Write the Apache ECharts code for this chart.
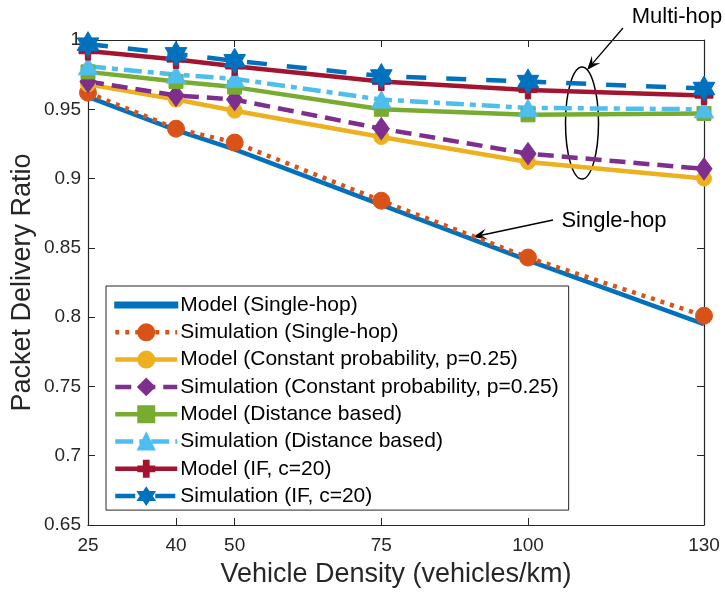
<!DOCTYPE html>
<html>
<head>
<meta charset="utf-8">
<script src="https://cdn.jsdelivr.net/npm/echarts@6.0.0/dist/echarts.min.js"></script>
<style>
  html, body { margin: 0; padding: 0; background: #fff; }
  #chart { width: 725px; height: 594px; }
</style>
</head>
<body>
<div id="chart"></div>
<script>
// vehicle density (x) and tick marks
var xValues = [25, 40, 50, 75, 100, 130];
var xTicks = [25, 40, 50, 75, 100, 130];

// packet delivery ratio per series
var modelSingle = [0.959, 0.935, 0.921, 0.881, 0.841, 0.795];
var simSingle   = [0.962, 0.936, 0.926, 0.884, 0.843, 0.801];
var modelConst  = [0.968, 0.957, 0.949, 0.930, 0.912, 0.900];
var simConst    = [0.970, 0.960, 0.957, 0.936, 0.918, 0.907];
var modelDist   = [0.977, 0.970, 0.966, 0.950, 0.946, 0.947];
var simDist     = [0.981, 0.975, 0.972, 0.957, 0.951, 0.950];
var modelIF     = [0.992, 0.986, 0.981, 0.970, 0.964, 0.960];
var simIF       = [0.997, 0.990, 0.985, 0.974, 0.970, 0.965];

var names = [
  'Model (Single-hop)',
  'Simulation (Single-hop)',
  'Model (Constant probability, p=0.25)',
  'Simulation (Constant probability, p=0.25)',
  'Model (Distance based)',
  'Simulation (Distance based)',
  'Model (IF, c=20)',
  'Simulation (IF, c=20)'
];

var FONT = 'Liberation Sans, Arial, Helvetica, sans-serif';
var AXIS = '#262626';
var LW = 4.5;
var PLUS = 'path://M3.5,0H6.5V3.5H10V6.5H6.5V10H3.5V6.5H0V3.5H3.5Z';
var HEXA = 'path://M50,0L64.4,25L93.3,25L78.9,50L93.3,75L64.4,75L50,100L35.6,75L6.7,75L21.1,50L6.7,25L35.6,25Z';

function pairs(vals) {
  return xValues.map(function (x, i) { return [x, vals[i]]; });
}

function mkSeries(name, vals, color, type, symbol, size) {
  return {
    name: name,
    type: 'line',
    data: pairs(vals),
    symbol: symbol,
    symbolSize: size,
    symbolKeepAspect: true,
    showSymbol: symbol !== 'none',
    lineStyle: { color: color, width: LW, type: type, cap: 'butt' },
    itemStyle: { color: color, borderColor: color, borderWidth: 1 },
    emphasis: { disabled: true },
    silent: true
  };
}

var series = [
  mkSeries(names[0], modelSingle, '#0072BD', 'solid', 'none', 0),
  mkSeries(names[1], simSingle, '#D95319', [4, 6], 'circle', 17),
  mkSeries(names[2], modelConst, '#EDB120', 'solid', 'circle', 15),
  mkSeries(names[3], simConst, '#7E2F8E', [16, 8], 'diamond', [16, 22]),
  mkSeries(names[4], modelDist, '#77AC30', 'solid', 'rect', 14),
  mkSeries(names[5], simDist, '#4DBEEE', [18, 6, 6, 6], 'triangle', [19, 17]),
  mkSeries(names[6], modelIF, '#A2142F', 'solid', PLUS, 18),
  mkSeries(names[7], simIF, '#0072BD', [20, 20], HEXA, 25)
];

// legend entries; the plain model line gets a bare line icon
var legendData = names.map(function (n, i) {
  return i === 0 ? { name: n, icon: 'path://M0,0H62V5H0Z' } : { name: n };
});

// arrow helper for the two annotations
function arrow(x1, y1, x2, y2) {
  var dx = x2 - x1, dy = y2 - y1;
  var len = Math.sqrt(dx * dx + dy * dy);
  var ux = dx / len, uy = dy / len;
  var nx = -uy, ny = ux;
  var L = 14, W = 5.5;
  return [
    { type: 'line', shape: { x1: x1, y1: y1, x2: x2 - ux * 6, y2: y2 - uy * 6 },
      style: { stroke: '#000', lineWidth: 1.3 } },
    { type: 'polygon', shape: { points: [
        [x2, y2],
        [x2 - ux * L + nx * W, y2 - uy * L + ny * W],
        [x2 - ux * L * 0.6, y2 - uy * L * 0.6],
        [x2 - ux * L - nx * W, y2 - uy * L - ny * W]
      ] }, style: { fill: '#000' } }
  ];
}

var graphics = [].concat(
  arrow(623, 28, 587, 70),
  arrow(553, 220, 473, 237),
  [
    { type: 'ellipse', shape: { cx: 582, cy: 123, rx: 16.5, ry: 56 },
      style: { fill: null, stroke: '#000', lineWidth: 1.5 } },
    { type: 'text', x: 677, y: 17,
      style: { text: 'Multi-hop', fontSize: 22, fontFamily: FONT, fill: '#000', align: 'center', verticalAlign: 'middle' } },
    { type: 'text', x: 614, y: 221,
      style: { text: 'Single-hop', fontSize: 22, fontFamily: FONT, fill: '#000', align: 'center', verticalAlign: 'middle' } }
  ]
);

var chart = echarts.init(document.getElementById('chart'), null, { renderer: 'canvas' });

var option = {
  animation: false,
  backgroundColor: '#fff',
  textStyle: { fontFamily: FONT },
  grid: { left: 88, right: 21, top: 40, bottom: 69, containLabel: false, outerBoundsMode: 'none' },
  legend: {
    data: legendData,
    orient: 'vertical',
    left: 106,
    top: 286,
    itemWidth: 62,
    itemHeight: 20,
    itemGap: 6.3,
    padding: [8.5, 10, 3.5, 7],
    borderColor: AXIS,
    borderWidth: 1,
    backgroundColor: '#fff',
    borderRadius: 0,
    selectedMode: false,
    lineStyle: { width: LW },
    textStyle: { fontSize: 21, lineHeight: 21, fontFamily: FONT, color: '#000', padding: [0, 0, 0, -2] }
  },
  xAxis: [{
    type: 'value',
    min: 25,
    max: 130,
    name: 'Vehicle Density (vehicles/km)',
    nameLocation: 'middle',
    nameGap: 36,
    nameMoveOverlap: false,
    nameTextStyle: { fontSize: 27, fontFamily: FONT, color: AXIS },
    axisLine: { show: true, onZero: false, lineStyle: { color: AXIS, width: 1.2 } },
    axisTick: { show: true, inside: true, length: 7, customValues: xTicks, lineStyle: { color: AXIS } },
    axisLabel: { show: true, customValues: xTicks, margin: 11, fontSize: 19, fontFamily: FONT, color: AXIS },
    splitLine: { show: false }
  }, {
    type: 'value',
    position: 'top',
    min: 25,
    max: 130,
    axisLine: { show: true, onZero: false, lineStyle: { color: AXIS, width: 1.2 } },
    axisTick: { show: true, inside: true, length: 7, customValues: xTicks, lineStyle: { color: AXIS } },
    axisLabel: { show: false },
    splitLine: { show: false }
  }],
  yAxis: [{
    type: 'value',
    min: 0.65,
    max: 1,
    interval: 0.05,
    name: 'Packet Delivery Ratio',
    nameLocation: 'middle',
    nameGap: 52,
    nameMoveOverlap: false,
    nameTextStyle: { fontSize: 27, fontFamily: FONT, color: AXIS },
    axisLine: { show: true, onZero: false, lineStyle: { color: AXIS, width: 1.2 } },
    axisTick: { show: true, inside: true, length: 7, lineStyle: { color: AXIS } },
    axisLabel: { margin: 7, fontSize: 19, fontFamily: FONT, color: AXIS },
    splitLine: { show: false }
  }, {
    type: 'value',
    position: 'right',
    min: 0.65,
    max: 1,
    interval: 0.05,
    axisLine: { show: true, onZero: false, lineStyle: { color: AXIS, width: 1.2 } },
    axisTick: { show: true, inside: true, length: 7, lineStyle: { color: AXIS } },
    axisLabel: { show: false },
    splitLine: { show: false }
  }],
  series: series,
  graphic: graphics
};

chart.setOption(option);
</script>
</body>
</html>
